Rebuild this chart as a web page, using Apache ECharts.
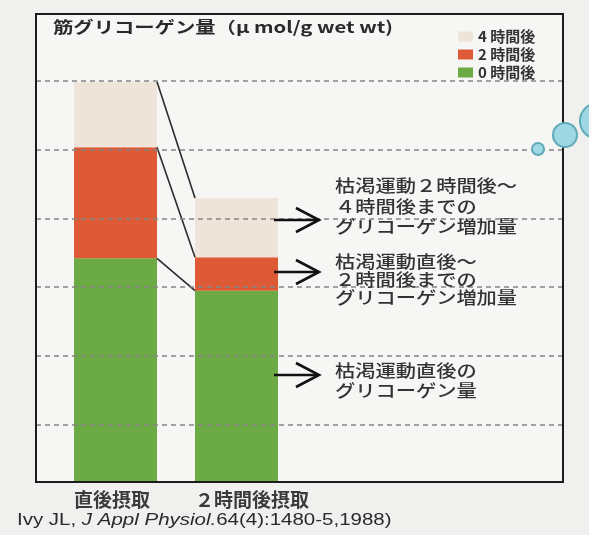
<!DOCTYPE html>
<html>
<head>
<meta charset="utf-8">
<script src="https://cdn.jsdelivr.net/npm/echarts@6/dist/echarts.min.js"></script>
<style>
  html, body { margin: 0; padding: 0; background: #f0f0ee; }
  #chart { width: 589px; height: 535px; }
</style>
</head>
<body>
<div id="chart"></div>
<script>
// Muscle glycogen (µmol/g wet wt), stacked by time after the depleting exercise
const categories = ['直後摂取', '２時間後摂取'];
const legendOrder = ['4 時間後', '2 時間後', '0 時間後'];
const glycogen0h = [65.0, 55.6];   // at end of exercise
const glycogen2h = [32.3, 9.7];    // gain 0 -> 2 h
const glycogen4h = [19.0, 17.2];   // gain 2 -> 4 h
const gridValues = [16.6, 36.6, 56.6, 76.6, 96.6, 116.6];
const yMax = 136;

const titleText = '筋グリコーゲン量（μ mol/g wet wt)';
const noteBlocks = [
  ['枯渇運動２時間後〜', '４時間後までの', 'グリコーゲン増加量'],
  ['枯渇運動直後〜', '２時間後までの', 'グリコーゲン増加量'],
  ['枯渇運動直後の', 'グリコーゲン量']
];
const sourceParts = ['Ivy JL, ', 'J Appl Physiol.', '64(4):1480-5,1988)'];

const COLORS = { h4: '#efe4da', h2: '#de5a36', h0: '#6caa45' };
const BAR_W = 83;
const JP = '"Noto Sans CJK JP", "Noto Sans", sans-serif';

// cumulative stack tops, used for the connector lines between the bars
const cum = [0, 1].map(i => [
  glycogen0h[i],
  glycogen0h[i] + glycogen2h[i],
  glycogen0h[i] + glycogen2h[i] + glycogen4h[i]
]);
const connectorData = [0, 1, 2].map(k => [0, cum[0][k], cum[1][k]]);

const chart = echarts.init(document.getElementById('chart'), null, { renderer: 'canvas' });

// annotation texts and arrows on the right side of the plot
const noteLineY = [[186, 207, 227], [262, 280, 298], [371, 391]];
const arrowY = [220, 272, 375];
const graphics = [];

graphics.push({
  type: 'text', x: 53, y: 27, scaleX: 1.27, z: 60,
  style: { text: titleText, font: 'bold 16px ' + JP, fill: '#2a2a2a', textVerticalAlign: 'middle' }
});

noteBlocks.forEach((lines, b) => {
  lines.forEach((t, j) => {
    graphics.push({
      type: 'text', x: 335, y: noteLineY[b][j], scaleX: 1.19, z: 60,
      style: { text: t, font: '500 17px ' + JP, fill: '#333', textVerticalAlign: 'middle' }
    });
  });
});

arrowY.forEach(y => {
  graphics.push({
    type: 'polyline', z: 60,
    shape: { points: [[274, y], [318, y]] },
    style: { stroke: '#111', lineWidth: 2.6 }
  });
  graphics.push({
    type: 'polyline', z: 60,
    shape: { points: [[296, y - 12], [319, y], [296, y + 12]] },
    style: { stroke: '#111', lineWidth: 2.6, fill: null, lineJoin: 'miter' }
  });
});

// plot frame
graphics.push({
  type: 'rect', z: 50,
  shape: { x: 36, y: 14, width: 527, height: 468 },
  style: { fill: null, stroke: '#1c1c1c', lineWidth: 2 }
});

// decorative bubbles at the right margin
[[538, 149, 6], [565, 135, 12], [598, 121, 18]].forEach(c => {
  graphics.push({
    type: 'circle', z: 70,
    shape: { cx: c[0], cy: c[1], r: c[2] },
    style: { fill: '#9ed8e4', stroke: '#62a9b9', lineWidth: 2 }
  });
});

// citation
graphics.push({
  type: 'text', x: 17, y: 521, scaleX: 1.28, z: 60,
  style: {
    text: '{r|' + sourceParts[0] + '}{i|' + sourceParts[1] + '}{r|' + sourceParts[2] + '}',
    textVerticalAlign: 'middle',
    rich: {
      r: { font: '16px "Liberation Sans", Arial, sans-serif', fill: '#2a2a2a' },
      i: { font: 'italic 16px "Liberation Sans", Arial, sans-serif', fill: '#2a2a2a' }
    }
  }
});

const option = {
  backgroundColor: '#f0f0ee',
  animation: false,
  grid: [
    { left: 55, top: 14, width: 242, height: 468, containLabel: false },
    { left: 36, top: 14, width: 527, height: 468, show: true, backgroundColor: '#f6f6f4', borderWidth: 0 }
  ],
  xAxis: [
    {
      type: 'category', gridIndex: 0, data: categories,
      axisLine: { show: false }, axisTick: { show: false },
      axisLabel: {
        margin: 8,
        formatter: v => '{t|' + v + '}',
        rich: { t: { width: BAR_W, align: 'left', fontSize: 19, fontWeight: 'bold', color: '#3a3a3a', fontFamily: JP } }
      }
    },
    { type: 'value', gridIndex: 1, min: 0, max: 1, show: false }
  ],
  yAxis: [
    { type: 'value', gridIndex: 0, min: 0, max: yMax, show: false },
    { type: 'value', gridIndex: 1, min: 0, max: yMax, show: false }
  ],
  legend: {
    data: legendOrder,
    orient: 'vertical',
    left: 453, top: 24,
    itemWidth: 15, itemHeight: 10, itemGap: 3,
    selectedMode: false,
    icon: 'rect',
    textStyle: { fontSize: 15, fontWeight: 'bold', color: '#333', fontFamily: JP, lineHeight: 15 }
  },
  series: [
    {
      name: 'gridlines', type: 'line', xAxisIndex: 1, yAxisIndex: 1, data: [], z: 1,
      markLine: {
        silent: true, symbol: 'none', label: { show: false },
        lineStyle: { type: [5, 4], color: '#858585', width: 1.5 },
        data: gridValues.map(v => ({ yAxis: v }))
      }
    },
    { name: '0 時間後', type: 'bar', stack: 'g', data: glycogen0h, barWidth: BAR_W, itemStyle: { color: COLORS.h0 }, z: 3 },
    { name: '2 時間後', type: 'bar', stack: 'g', data: glycogen2h, barWidth: BAR_W, itemStyle: { color: COLORS.h2 }, z: 3 },
    { name: '4 時間後', type: 'bar', stack: 'g', data: glycogen4h, barWidth: BAR_W, itemStyle: { color: COLORS.h4 }, z: 3 },
    {
      name: 'connectors', type: 'custom', data: connectorData, encode: { x: 0, y: [1, 2] }, z: 4, silent: true,
      renderItem: (params, api) => {
        const a = api.coord([0, api.value(1)]);
        const b = api.coord([1, api.value(2)]);
        return {
          type: 'line',
          shape: { x1: a[0] + BAR_W / 2, y1: a[1], x2: b[0] - BAR_W / 2, y2: b[1] },
          style: { stroke: '#2b2b2b', lineWidth: 1.6 }
        };
      }
    }
  ],
  graphic: graphics
};

chart.setOption(option);
</script>
</body>
</html>
